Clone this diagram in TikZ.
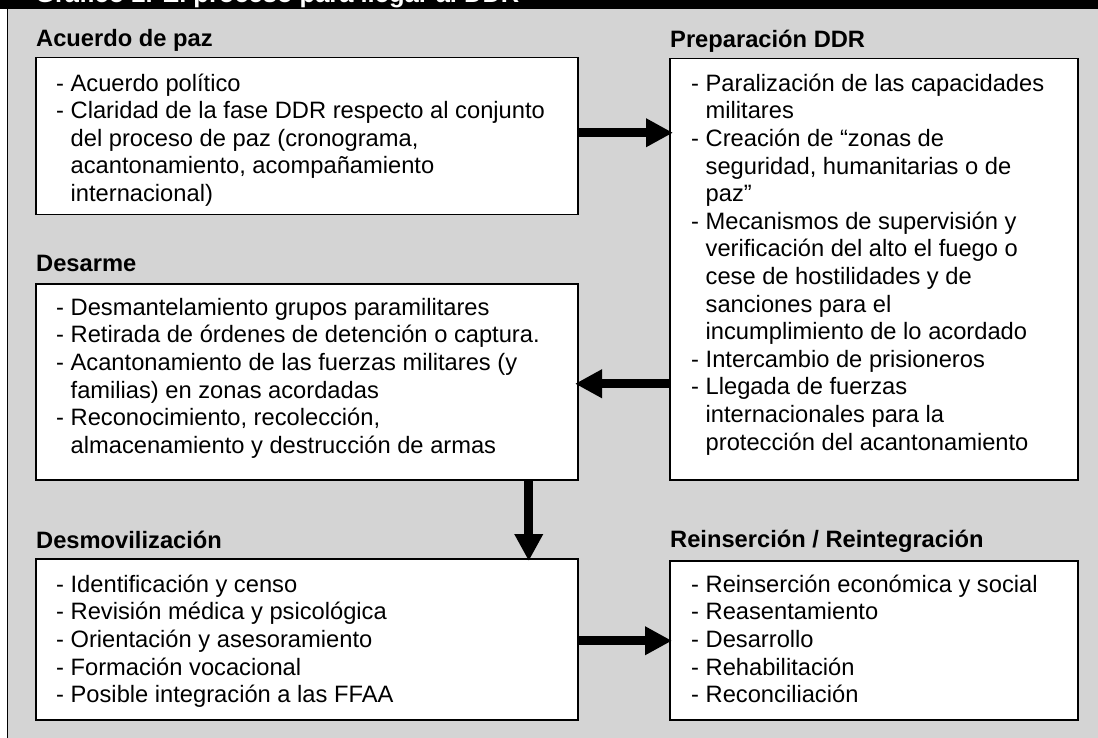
\documentclass[tikz,border=0pt]{standalone}
\usepackage{fontspec}
\setmainfont{Liberation Sans}
\usetikzlibrary{arrows.meta}
\definecolor{bggray}{RGB}{212,212,212}
\newcommand{\cind}{\hphantom{-\ }}
\newcommand{\stt}{\rule{0pt}{20pt}}
\begin{document}
\begin{tikzpicture}[x=1pt,y=-1pt,
  box/.style={draw=black, line width=1.5pt, fill=white, inner sep=0pt, anchor=north west},
  head/.style={anchor=base west, inner sep=0pt, font=\fontsize{23.7}{27.6}\selectfont\bfseries},
  body/.style={anchor=north west, inner sep=0pt, align=left, font=\fontsize{23.7}{27.6}\selectfont},
  arr/.style={line width=9pt, -{Triangle[length=27pt,width=27pt]}}
]
\useasboundingbox (0,0) rectangle (1098,738);
\fill[white] (0,0) rectangle (1098,738);
\draw[fill=bggray, line width=1.5pt] (7.5,0) rectangle (1102,742);
\fill[black] (0,0) rectangle (1098,9);
\node[anchor=base west, inner sep=0pt, text=white, font=\fontsize{25.5}{30}\selectfont\bfseries] (title) at (35,3) {Gráfico 2. El proceso para llegar al DDR};

% boxes
\node[box, minimum width=542pt, minimum height=157pt] (acuerdo) at (35,57) {};
\node[box, minimum width=408pt, minimum height=421pt] (prep) at (669,58) {};
\node[box, minimum width=542pt, minimum height=196pt] (desarme) at (35,283) {};
\node[box, minimum width=542pt, minimum height=161pt] (desmov) at (35,558) {};
\node[box, minimum width=408pt, minimum height=159pt] (reins) at (669,560) {};

% headings
\node[head] (acuerdoH) at (36,47) {Acuerdo de paz};
\node[head] (prepH) at (670,48) {Preparación DDR};
\node[head] (desarmeH) at (36,272) {Desarme};
\node[head] (desmovH) at (36,548) {Desmovilización};
\node[head] (reinsH) at (670,547) {Reinserción / Reintegración};

% bodies
\node[body] (acuerdoT) at (56,71) {\stt- Acuerdo político\\
- Claridad de la fase DDR respecto al conjunto\\
\cind del proceso de paz (cronograma,\\
\cind acantonamiento, acompañamiento\\
\cind internacional)};

\node[body] (prepT) at (691,71) {\stt- Paralización de las capacidades\\
\cind militares\\
- Creación de “zonas de\\
\cind seguridad, humanitarias o de\\
\cind paz”\\
- Mecanismos de supervisión y\\
\cind verificación del alto el fuego o\\
\cind cese de hostilidades y de\\
\cind sanciones para el\\
\cind incumplimiento de lo acordado\\
- Intercambio de prisioneros\\
- Llegada de fuerzas\\
\cind internacionales para la\\
\cind protección del acantonamiento};

\node[body] (desarmeT) at (56,295) {\stt- Desmantelamiento grupos paramilitares\\
- Retirada de órdenes de detención o captura.\\
- Acantonamiento de las fuerzas militares (y\\
\cind familias) en zonas acordadas\\
- Reconocimiento, recolección,\\
\cind almacenamiento y destrucción de armas};

\node[body] (desmovT) at (56,572) {\stt- Identificación y censo\\
- Revisión médica y psicológica\\
- Orientación y asesoramiento\\
- Formación vocacional\\
- Posible integración a las FFAA};

\node[body] (reinsT) at (691,572) {\stt- Reinserción económica y social\\
- Reasentamiento\\
- Desarrollo\\
- Rehabilitación\\
- Reconciliación};

% connectors
\coordinate (a1) at ([yshift=3.5pt]acuerdo.east);
\draw[arr, shorten >=-4pt] (a1) -- (a1 -| prep.west);
\coordinate (a2) at ([yshift=-2pt]desarme.east);
\draw[arr, shorten >=-3.5pt] (a2 -| prep.west) -- (a2);
\coordinate (a3) at ([xshift=222pt]desarme.south);
\draw[arr, shorten >=-3pt] (a3) -- (a3 |- desmov.north);
\coordinate (a4) at ([yshift=-1.5pt]desmov.east);
\draw[arr, shorten >=-3pt] (a4) -- (a4 -| reins.west);
\end{tikzpicture}
\end{document}
